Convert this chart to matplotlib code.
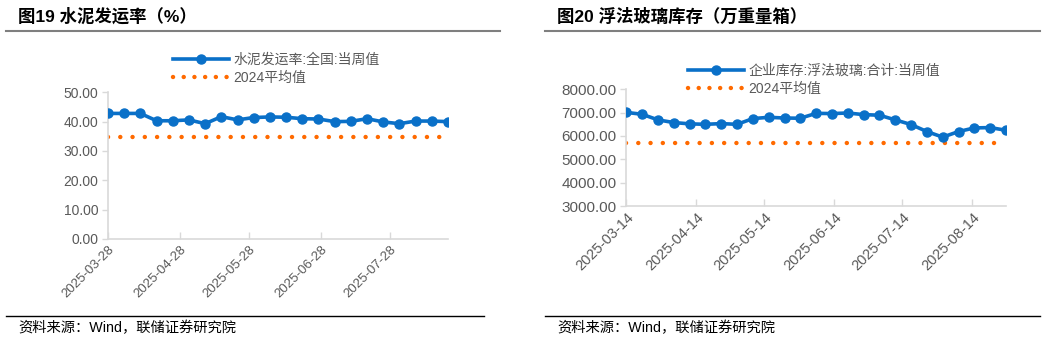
import matplotlib
matplotlib.use("Agg")
import matplotlib.pyplot as plt
import matplotlib.dates as mdates
from matplotlib.lines import Line2D
import pandas as pd

plt.rcParams['font.family'] = ['Liberation Sans', 'Noto Sans CJK SC', 'DejaVu Sans']

# ---- data: chart 1 (cement shipment rate, %) ----
cement_dates = ["2025-03-28", "2025-04-04", "2025-04-11", "2025-04-18", "2025-04-25",
                "2025-05-02", "2025-05-09", "2025-05-16", "2025-05-23", "2025-05-30",
                "2025-06-06", "2025-06-13", "2025-06-20", "2025-06-27", "2025-07-04",
                "2025-07-11", "2025-07-18", "2025-07-25", "2025-08-01", "2025-08-08",
                "2025-08-15", "2025-08-22"]
cement_rate = [42.8, 42.8, 42.8, 40.3, 40.3, 40.6, 39.3, 41.7, 40.6, 41.4, 41.6,
               41.5, 41.0, 40.9, 40.0, 40.1, 41.0, 39.9, 39.3, 40.2, 40.2, 40.0]
cement_avg_2024 = 34.9

# ---- data: chart 2 (float glass inventory, 10k weight boxes) ----
glass_dates = ["2025-03-14", "2025-03-21", "2025-03-28", "2025-04-04", "2025-04-11",
               "2025-04-18", "2025-04-25", "2025-05-02", "2025-05-09", "2025-05-16",
               "2025-05-23", "2025-05-30", "2025-06-06", "2025-06-13", "2025-06-20",
               "2025-06-27", "2025-07-04", "2025-07-11", "2025-07-18", "2025-07-25",
               "2025-08-01", "2025-08-08", "2025-08-15", "2025-08-22", "2025-08-29"]
glass_inv = [7010, 6930, 6690, 6575, 6520, 6500, 6530, 6500, 6745, 6800, 6770,
             6760, 6970, 6960, 6985, 6915, 6890, 6690, 6490, 6190, 5950, 6190,
             6345, 6360, 6245]
glass_avg_2024 = 5690

titles = ["图19 水泥发运率（%）", "图20 浮法玻璃库存（万重量箱）"]
series_labels = [["水泥发运率:全国:当周值", "2024平均值"],
                 ["企业库存:浮法玻璃:合计:当周值", "2024平均值"]]
source_text = "资料来源：Wind，联储证券研究院"

W, H = 1045, 341
fig = plt.figure(figsize=(W / 100, H / 100), dpi=100)

BLUE = "#0A70C8"
ORANGE = "#FF6A00"
GREY_TXT = "#595959"
SPINE = "#D9D9D9"


def fx(px):
    return px / W


def fy(py):
    return 1 - py / H


def draw_panel(rect, dates, vals, avg, ylim, yticks, tick_day, labels, fs_tick,
               leg_anchor):
    ax = fig.add_axes(rect)
    d = pd.to_datetime(dates)
    ax.plot(d, vals, color=BLUE, lw=2.6, marker='o', ms=6.5, mfc=BLUE, mec=BLUE,
            solid_joinstyle='round', zorder=3)
    ax.plot([d[0], d[-1]], [avg, avg], color=ORANGE, lw=3.2,
            linestyle=(0, (0.01, 2.75)), dash_capstyle='round', zorder=2)
    ax.set_xlim(d[0], d[-1])
    ax.set_ylim(*ylim)
    ax.set_yticks(yticks)
    ax.yaxis.set_major_formatter(plt.FuncFormatter(lambda v, p: f"{v:.2f}"))
    ax.xaxis.set_major_locator(mdates.MonthLocator(bymonthday=tick_day))
    ax.xaxis.set_major_formatter(mdates.DateFormatter('%Y-%m-%d'))
    for s in ['top', 'right']:
        ax.spines[s].set_visible(False)
    for s in ['left', 'bottom']:
        ax.spines[s].set_color(SPINE)
        ax.spines[s].set_linewidth(1.2)
    ax.tick_params(axis='y', direction='out', length=4, color=SPINE, width=1,
                   labelsize=fs_tick, labelcolor=GREY_TXT, pad=3)
    ax.tick_params(axis='x', direction='in', length=5, color=SPINE, width=1,
                   labelsize=fs_tick - 0.5, labelcolor=GREY_TXT, pad=3)
    for lab in ax.get_xticklabels():
        lab.set_rotation(45)
        lab.set_ha('right')
        lab.set_va('top')
        lab.set_rotation_mode('anchor')
    handles = [Line2D([0, 1, 2], [0, 0, 0], color=BLUE, lw=2.6, marker='o', ms=6.5,
                      markevery=[1]),
               Line2D([], [], color=ORANGE, lw=3.2, linestyle=(0, (0.01, 2.4)),
                      dash_capstyle='round')]
    leg = ax.legend(handles, labels, loc='upper left', bbox_to_anchor=leg_anchor,
                    bbox_transform=fig.transFigure, frameon=False, fontsize=10,
                    handlelength=4.0, handletextpad=0.35, labelspacing=0.27,
                    borderpad=0, borderaxespad=0)
    for t in leg.get_texts():
        t.set_color(GREY_TXT)
    return ax


# left panel
draw_panel([fx(108), fy(239), fx(448) - fx(108), fy(92.3) - fy(239)],
           cement_dates, cement_rate, cement_avg_2024, (0, 50),
           [0, 10, 20, 30, 40, 50], 28, series_labels[0], 10,
           (fx(173), fy(53)))

# right panel
draw_panel([fx(626.3), fy(206), fx(1006) - fx(626.3), fy(89.3) - fy(206)],
           glass_dates, glass_inv, glass_avg_2024, (3000, 8000),
           [3000, 4000, 5000, 6000, 7000, 8000], 14, series_labels[1], 11,
           (fx(688), fy(64)))

# titles, rules, source
for x0, x1, tx, title in [(6, 500, 18, titles[0]), (545, 1040, 557, titles[1])]:
    fig.text(fx(tx), fy(16), title, fontsize=12.5, fontweight='bold',
             ha='left', va='center', color='black')
    fig.add_artist(Line2D([fx(x0), fx(x1)], [fy(31), fy(31)], color='#7F7F7F', lw=1.5))
    fig.add_artist(Line2D([fx(x0), fx(x1 - 16 if x0 < 100 else x1)], [fy(316), fy(316)],
                          color='black', lw=1))
    fig.text(fx(tx), fy(328), source_text, fontsize=10.3, ha='left', va='center',
             color='black')

fig.savefig("out.png", dpi=100)
